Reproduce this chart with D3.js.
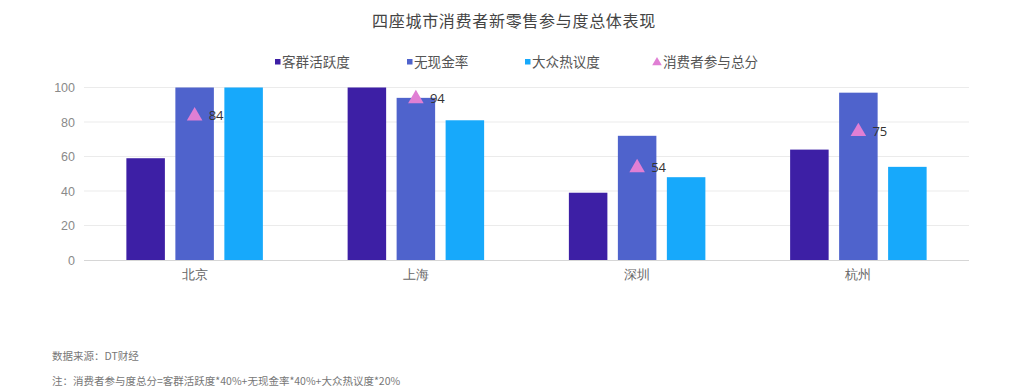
<!DOCTYPE html>
<html><head><meta charset="utf-8">
<script src="https://cdn.jsdelivr.net/npm/d3@7"></script>
<style>
html,body{margin:0;padding:0;background:#fff;}
svg{display:block;font-family:"Noto Sans CJK SC","Noto Sans",sans-serif;}
</style></head>
<body><svg id="c" width="1025" height="391"></svg>
<script>
const categories = ["北京","上海","深圳","杭州"];
const seriesNames = ["客群活跃度","无现金率","大众热议度"];
const activity = [59, 100, 39, 64];
const cashless = [100, 94, 72, 97];
const buzz = [100, 81, 48, 54];
const totalName = "消费者参与总分";
const totalScore = [84, 94, 54, 75];
const yTicks = [0, 20, 40, 60, 80, 100];
const colors = ["#3d1fa5", "#4f63cc", "#17a9fb"];
const triColor = "#e07fd4";

const svg = d3.select("#c");
const x = d3.scaleBand().domain(categories).range([84, 969]);
const y = d3.scaleLinear().domain([0, 100]).range([260, 87.5]);

// title
svg.append("text").attr("x", 514).attr("y", 27).attr("text-anchor", "middle")
  .attr("font-size", 16).attr("letter-spacing", 0.7).attr("fill", "#444").attr("font-weight", 400)
  .text("四座城市消费者新零售参与度总体表现");

// gridlines
svg.append("g").selectAll("line").data(yTicks.filter(d => d > 0)).join("line")
  .attr("x1", 84).attr("x2", 969).attr("y1", d => y(d)).attr("y2", d => y(d))
  .attr("stroke", "#ebebeb").attr("stroke-width", 1);

// y axis labels
const yAxis = d3.axisLeft(y).tickValues(yTicks).tickSize(0).tickPadding(9);
const ya = svg.append("g").attr("transform", "translate(84,0)").call(yAxis);
ya.select(".domain").remove();
ya.selectAll("text").attr("font-size", 12.5).attr("fill", "#8a8a8a")
  .attr("font-family", "'Liberation Sans','DejaVu Sans',sans-serif");

// bars
const series = [activity, cashless, buzz];
const sub = d3.scaleBand().domain([0,1,2]).range([-68.25, 68.25]).paddingInner(0.214);
series.forEach((vals, si) => {
  svg.append("g").selectAll("rect").data(vals).join("rect")
    .attr("x", (d, i) => x(categories[i]) + x.bandwidth()/2 + sub(si))
    .attr("width", sub.bandwidth())
    .attr("y", d => y(d))
    .attr("height", d => y(0) - y(d))
    .attr("fill", colors[si]);
});

// x axis baseline + labels
const xAxis = d3.axisBottom(x).tickSize(0).tickPadding(10);
const xa = svg.append("g").attr("transform", "translate(0,260)").call(xAxis);
xa.select(".domain").attr("stroke", "#d6d6d6").attr("d", "M84,0.5H969");
xa.selectAll("text").attr("font-size", 13).attr("fill", "#666");

// triangles + labels
const tri = d3.symbol().type(d3.symbolTriangle).size(105);
svg.append("g").selectAll("path").data(totalScore).join("path")
  .attr("d", tri)
  .attr("transform", (d, i) => `translate(${x(categories[i]) + x.bandwidth()/2},${y(d)+1})`)
  .attr("fill", triColor);
svg.append("g").selectAll("text").data(totalScore).join("text")
  .attr("x", (d, i) => x(categories[i]) + x.bandwidth()/2 + 14)
  .attr("y", d => y(d) + 5)
  .attr("font-size", 13).attr("fill", "#333")
  .attr("font-family", "'Open Sans','Noto Sans',sans-serif")
  .text(d => d);

// legend
const legendX = [275, 407, 525, 654];
const lg = svg.append("g");
seriesNames.forEach((n, i) => {
  lg.append("rect").attr("x", legendX[i]).attr("y", 59).attr("width", 5.5).attr("height", 5.5).attr("fill", colors[i]);
  lg.append("text").attr("x", legendX[i] + 7).attr("y", 67).attr("font-size", 13.6).attr("fill", "#555").text(n);
});
lg.append("path").attr("d", d3.symbol().type(d3.symbolTriangle).size(40))
  .attr("transform", `translate(${legendX[3]+3},${62.5})`).attr("fill", triColor);
lg.append("text").attr("x", legendX[3] + 9).attr("y", 67).attr("font-size", 13.6).attr("fill", "#555").text(totalName);

// footer
svg.append("text").attr("x", 52).attr("y", 360).attr("font-size", 10.5).attr("fill", "#777").text("数据来源：DT财经");
svg.append("text").attr("x", 52).attr("y", 385).attr("font-size", 10.5).attr("fill", "#777")
  .text("注：消费者参与度总分=客群活跃度*40%+无现金率*40%+大众热议度*20%");
</script></body></html>
